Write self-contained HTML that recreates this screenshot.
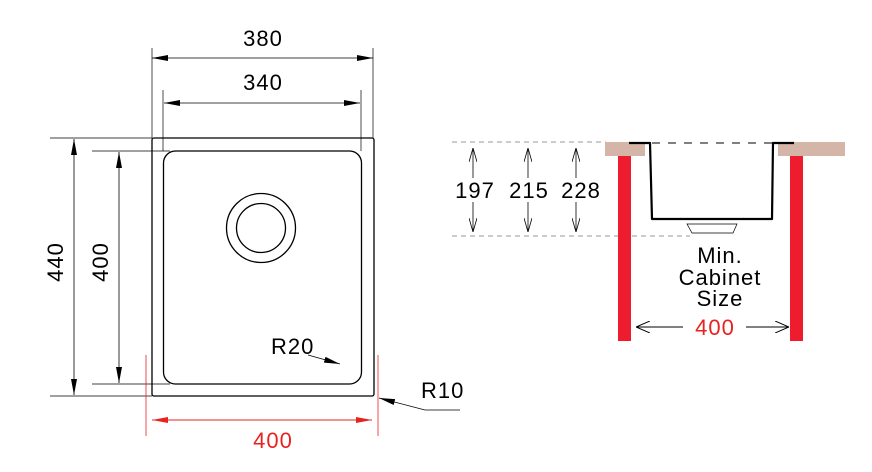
<!DOCTYPE html>
<html><head><meta charset="utf-8"><style>
html,body{margin:0;padding:0;background:#fff;}
svg{display:block;}
text{font-family:"Liberation Sans",sans-serif;}
</style></head><body>
<svg width="872" height="472" viewBox="0 0 872 472" xmlns="http://www.w3.org/2000/svg">
<defs>
<marker id="a" markerWidth="16" markerHeight="6" refX="16" refY="3" orient="auto-start-reverse" markerUnits="userSpaceOnUse"><path d="M0,0 L16,3 L0,6 Z" fill="#000"/></marker>
<marker id="ar" markerWidth="16" markerHeight="6" refX="16" refY="3" orient="auto-start-reverse" markerUnits="userSpaceOnUse"><path d="M0,0 L16,3 L0,6 Z" fill="#e8221e"/></marker>
<marker id="o" markerWidth="14" markerHeight="8" refX="14" refY="4" orient="auto" markerUnits="userSpaceOnUse"><path d="M0,0 L14,4 L0,8" fill="none" stroke="#000" stroke-width="0.8"/></marker>
<marker id="o2" markerWidth="14" markerHeight="12" refX="14" refY="6" orient="auto" markerUnits="userSpaceOnUse"><path d="M0,0 L14,6 L0,12" fill="none" stroke="#000" stroke-width="1"/></marker>
</defs>
<g stroke="#000" fill="none">
<rect x="152" y="138" width="222" height="258" rx="2" stroke-width="1.3"/>
<rect x="163.5" y="151" width="198" height="233" rx="12" stroke-width="1.3"/>
<circle cx="261" cy="228" r="34.5" stroke-width="1.3"/>
<circle cx="261" cy="228" r="24.5" stroke-width="1.3"/>
<line x1="152" y1="48" x2="152" y2="138" stroke-width="0.7"/>
<line x1="373" y1="48" x2="373" y2="138" stroke-width="0.7"/>
<line x1="163" y1="90" x2="163" y2="151" stroke-width="0.7"/>
<line x1="361" y1="90" x2="361" y2="151" stroke-width="0.7"/>
<line x1="152" y1="58" x2="373" y2="58" stroke-width="0.8" marker-end="url(#a)" marker-start="url(#a)"/>
<line x1="164" y1="103" x2="360" y2="103" stroke-width="0.8" marker-end="url(#a)" marker-start="url(#a)"/>
<line x1="50" y1="138" x2="152" y2="138" stroke-width="0.7"/>
<line x1="50" y1="396" x2="152" y2="396" stroke-width="0.7"/>
<line x1="92" y1="151" x2="170" y2="151" stroke-width="0.7"/>
<line x1="92" y1="384" x2="170" y2="384" stroke-width="0.7"/>
<line x1="74" y1="139" x2="74" y2="395" stroke-width="0.8" marker-end="url(#a)" marker-start="url(#a)"/>
<line x1="119" y1="152" x2="119" y2="383" stroke-width="0.8" marker-end="url(#a)" marker-start="url(#a)"/>
<line x1="308" y1="355" x2="340" y2="364" stroke-width="0.8" marker-end="url(#a)"/>
<polyline points="460,410 425,410 379,398" stroke-width="0.8" marker-end="url(#a)"/>
</g>
<g stroke="#e8221e" fill="none">
<line x1="146" y1="355" x2="146" y2="436" stroke-width="0.8"/>
<line x1="378" y1="355" x2="378" y2="436" stroke-width="0.8"/>
<line x1="152" y1="420" x2="372" y2="420" stroke-width="1" marker-end="url(#ar)" marker-start="url(#ar)"/>
</g>
<g font-size="22" fill="#000" letter-spacing="1">
<text x="263" y="46" text-anchor="middle">380</text>
<text x="263" y="90" text-anchor="middle">340</text>
<text transform="translate(63,262) rotate(-90)" text-anchor="middle">440</text>
<text transform="translate(108,262) rotate(-90)" text-anchor="middle">400</text>
<text x="271" y="354">R20</text>
<text x="421" y="398">R10</text>
<text x="273" y="448" text-anchor="middle" fill="#e8221e">400</text>
</g>
<g stroke="#777" stroke-width="0.8" stroke-dasharray="5,4" fill="none">
<line x1="452" y1="142" x2="606" y2="142"/>
<line x1="452" y1="236" x2="690" y2="236"/>
</g>
<rect x="605" y="142" width="40" height="14" fill="#d4b5a7"/>
<rect x="778" y="142" width="67" height="14" fill="#d4b5a7"/>
<rect x="618" y="156" width="13" height="185" fill="#ed1c2e"/>
<rect x="790" y="156" width="13" height="185" fill="#ed1c2e"/>
<g stroke="#000" fill="none">
<polyline points="629,143 650,143 652,219 772,219 773,143 794,143" stroke-width="2.2" stroke-linejoin="round"/>
<line x1="652" y1="143" x2="772" y2="143" stroke-width="1" stroke-dasharray="8,8"/>
<polygon points="687,224 737,224 733,233 692,233" stroke-width="0.7"/>
<line x1="473" y1="178" x2="473" y2="148" stroke-width="0.8" marker-end="url(#o)"/>
<line x1="473" y1="202" x2="473" y2="232" stroke-width="0.8" marker-end="url(#o)"/>
<line x1="528" y1="178" x2="528" y2="148" stroke-width="0.8" marker-end="url(#o)"/>
<line x1="528" y1="202" x2="528" y2="232" stroke-width="0.8" marker-end="url(#o)"/>
<line x1="576" y1="178" x2="576" y2="148" stroke-width="0.8" marker-end="url(#o)"/>
<line x1="576" y1="202" x2="576" y2="232" stroke-width="0.8" marker-end="url(#o)"/>
<line x1="683" y1="327" x2="636" y2="327" stroke-width="1" marker-end="url(#o2)"/>
<line x1="746" y1="327" x2="789" y2="327" stroke-width="1" marker-end="url(#o2)"/>
</g>
<g font-size="22" fill="#000" text-anchor="middle" letter-spacing="1">
<text x="475" y="198">197</text>
<text x="529" y="198">215</text>
<text x="581" y="198">228</text>
<text x="720" y="263">Min.</text>
<text x="720" y="285">Cabinet</text>
<text x="720" y="306">Size</text>
<text x="715" y="335" fill="#e8221e">400</text>
</g>
</svg>
</body></html>
